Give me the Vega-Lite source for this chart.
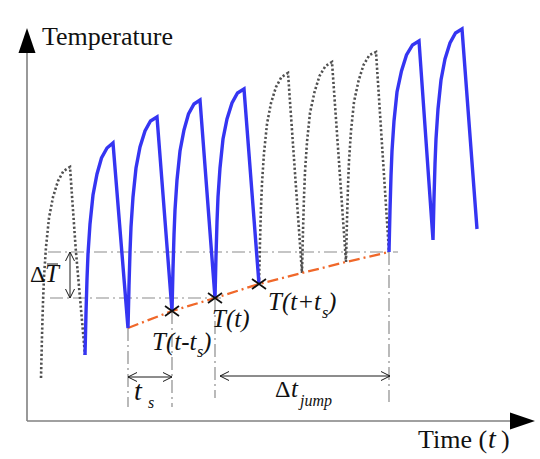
{
 "$schema": "https://vega.github.io/schema/vega-lite/v6.json",
 "width": 540,
 "height": 459,
 "autosize": {"type": "fit", "contains": "padding"},
 "padding": 0,
 "background": "#ffffff",
 "config": {"view": {"stroke": null}},
 "datasets": {
  "measured": [
   {"id":"b1","t":58,"T":66},{"id":"b1","t":59,"T":108},{"id":"b1","t":60,"T":142},{"id":"b1","t":61,"T":167},{"id":"b1","t":63,"T":197},{"id":"b1","t":66,"T":226},{"id":"b1","t":70,"T":247},{"id":"b1","t":74.5,"T":263},{"id":"b1","t":80,"T":273},{"id":"b1","t":86,"T":278},
   {"id":"b1","t":101,"T":93},{"id":"b1","t":102,"T":135},{"id":"b1","t":103,"T":169},{"id":"b1","t":104,"T":194},{"id":"b1","t":106,"T":224},{"id":"b1","t":109,"T":253},{"id":"b1","t":113,"T":274},{"id":"b1","t":118,"T":290},{"id":"b1","t":123.5,"T":300},{"id":"b1","t":130,"T":304},
   {"id":"b1","t":145,"T":110},{"id":"b1","t":146,"T":152},{"id":"b1","t":147,"T":186},{"id":"b1","t":148,"T":211},{"id":"b1","t":150,"T":241},{"id":"b1","t":153,"T":270},{"id":"b1","t":157,"T":291},{"id":"b1","t":161.5,"T":307},{"id":"b1","t":167,"T":317},{"id":"b1","t":173,"T":321},
   {"id":"b1","t":188,"T":123},{"id":"b1","t":189,"T":165},{"id":"b1","t":190,"T":199},{"id":"b1","t":191,"T":224},{"id":"b1","t":193,"T":253},{"id":"b1","t":196,"T":282},{"id":"b1","t":200,"T":302},{"id":"b1","t":205,"T":318},{"id":"b1","t":210.5,"T":328},{"id":"b1","t":217,"T":332},
   {"id":"b1","t":232,"T":137},
   {"id":"b2","t":362,"T":169},{"id":"b2","t":363,"T":211},{"id":"b2","t":364,"T":245},{"id":"b2","t":365,"T":270},{"id":"b2","t":367,"T":300},{"id":"b2","t":370,"T":329},{"id":"b2","t":374.5,"T":350},{"id":"b2","t":379.5,"T":366},{"id":"b2","t":385.5,"T":376},{"id":"b2","t":392,"T":380},
   {"id":"b2","t":406,"T":181},{"id":"b2","t":407,"T":223},{"id":"b2","t":408,"T":257},{"id":"b2","t":409,"T":282},{"id":"b2","t":411,"T":312},{"id":"b2","t":414,"T":341},{"id":"b2","t":418,"T":362},{"id":"b2","t":423,"T":378},{"id":"b2","t":428.5,"T":388},{"id":"b2","t":435,"T":392},
   {"id":"b2","t":450,"T":192}
  ],
  "skipped": [
   {"id":"d1","t":14,"T":43},{"id":"d1","t":15,"T":85},{"id":"d1","t":16,"T":119},{"id":"d1","t":17,"T":144},{"id":"d1","t":19,"T":174},{"id":"d1","t":22,"T":203},{"id":"d1","t":26,"T":224},{"id":"d1","t":31,"T":240},{"id":"d1","t":36.5,"T":250},{"id":"d1","t":43,"T":254},{"id":"d1","t":48.8,"T":171},{"id":"d1","t":58,"T":66},
   {"id":"d2","t":232,"T":137},{"id":"d2","t":233,"T":179},{"id":"d2","t":234,"T":213},{"id":"d2","t":235,"T":238},{"id":"d2","t":237,"T":268},{"id":"d2","t":240,"T":297},{"id":"d2","t":244,"T":318},{"id":"d2","t":249,"T":334},{"id":"d2","t":254.5,"T":344},{"id":"d2","t":261,"T":348},
   {"id":"d2","t":275,"T":148},{"id":"d2","t":276,"T":190},{"id":"d2","t":277,"T":224},{"id":"d2","t":278,"T":249},{"id":"d2","t":280,"T":279},{"id":"d2","t":283,"T":308},{"id":"d2","t":287.5,"T":329},{"id":"d2","t":292.5,"T":345},{"id":"d2","t":298.5,"T":355},{"id":"d2","t":305,"T":359},
   {"id":"d2","t":319,"T":159},{"id":"d2","t":320,"T":201},{"id":"d2","t":321,"T":235},{"id":"d2","t":322,"T":260},{"id":"d2","t":324,"T":290},{"id":"d2","t":327,"T":319},{"id":"d2","t":331.5,"T":340},{"id":"d2","t":336.5,"T":356},{"id":"d2","t":342.5,"T":366},{"id":"d2","t":349,"T":369},
   {"id":"d2","t":362,"T":169}
  ],
  "trend": [
   {"t":101,"T":93},{"t":145,"T":110},{"t":188,"T":123},{"t":232,"T":137},{"t":275,"T":148},{"t":319,"T":159},{"t":362,"T":169}
  ],
  "guides": [
   {"id":"g1","t":21,"T":169},{"id":"g1","t":371,"T":169},
   {"id":"g2","t":23,"T":123},{"id":"g2","t":194,"T":123},
   {"id":"g3","t":101,"T":93},{"id":"g3","t":101,"T":14},
   {"id":"g4","t":145,"T":110},{"id":"g4","t":145,"T":14},
   {"id":"g5","t":188,"T":123},{"id":"g5","t":188,"T":23},
   {"id":"g6","t":362,"T":169},{"id":"g6","t":362,"T":19}
  ],
  "dims": [
   {"id":"dT","t":43,"T":169},{"id":"dT","t":43,"T":123},
   {"id":"ts","t":101,"T":44},{"id":"ts","t":145,"T":44},
   {"id":"dj","t":193,"T":45},{"id":"dj","t":363,"T":45},
   {"id":"bar","t":20,"T":157},{"id":"bar","t":31,"T":157}
  ],
  "axes": [
   {"id":"yaxis","t":0,"T":0},{"id":"yaxis","t":0,"T":372},
   {"id":"xaxis","t":0,"T":0},{"id":"xaxis","t":484,"T":0}
  ],
  "heads": [
   {"dir":"up","t":43,"T":169},{"dir":"down","t":43,"T":123},
   {"dir":"left","t":101,"T":44},{"dir":"right","t":145,"T":44},
   {"dir":"left","t":193,"T":45},{"dir":"right","t":363,"T":45}
  ],
  "axisHeads": [
   {"dir":"up","t":0,"T":393},{"dir":"right","t":508,"T":0}
  ],
  "samples": [
   {"label":"T(t-ts)","t":145,"T":110},{"label":"T(t)","t":188,"T":123},{"label":"T(t+ts)","t":232,"T":137}
  ],
  "roman": [
   {"label":"Temperature","t":15,"T":376},
   {"label":"Time (","t":391,"T":-27},
   {"label":")","t":474,"T":-27}
  ],
  "greek": [
   {"label":"Δ","t":3,"T":139},
   {"label":"Δ","t":248,"T":24}
  ],
  "italic": [
   {"label":"T(t-t","t":125,"T":71},
   {"label":")","t":176,"T":71},
   {"label":"T(t)","t":185,"T":94},
   {"label":"T(t+t","t":241,"T":111},
   {"label":")","t":301,"T":111},
   {"label":"T","t":18,"T":139},
   {"label":"t","t":264,"T":24}
  ],
  "italicBig": [
   {"label":"t","t":107,"T":21},
   {"label":"t","t":461,"T":-27}
  ],
  "subs": [
   {"label":"s","t":170,"T":64},
   {"label":"s","t":295,"T":103},
   {"label":"s","t":121,"T":13},
   {"label":"jump","t":273,"T":15}
  ]
 },
 "encoding": {
  "x": {"field":"t","type":"quantitative","scale":{"domain":[-27,513],"nice":false,"zero":false},"axis":null},
  "y": {"field":"T","type":"quantitative","scale":{"domain":[-38,421],"nice":false,"zero":false},"axis":null}
 },
 "layer": [
  {"data":{"name":"guides"},"mark":{"type":"line","color":"#8c8c8c","strokeWidth":1.2,"strokeDash":[13,4,2,4],"clip":false},"encoding":{"detail":{"field":"id"}}},
  {"data":{"name":"axes"},"mark":{"type":"line","color":"#808080","strokeWidth":1.6,"clip":false},"encoding":{"detail":{"field":"id"}}},
  {"data":{"name":"skipped"},"mark":{"type":"line","color":"#505050","strokeWidth":2.6,"strokeDash":[2.2,2.2],"clip":false},"encoding":{"detail":{"field":"id"}}},
  {"data":{"name":"trend"},"mark":{"type":"line","color":"#f0682a","strokeWidth":2.3,"strokeDash":[11,4,2,4],"clip":false},"encoding":{}},
  {"data":{"name":"measured"},"mark":{"type":"line","color":"#3535f2","strokeWidth":3.4,"strokeJoin":"miter","clip":false},"encoding":{"detail":{"field":"id"}}},
  {"data":{"name":"dims"},"mark":{"type":"line","color":"#1a1a1a","strokeWidth":1,"clip":false},"encoding":{"detail":{"field":"id"}}},
  {"data":{"name":"heads"},"transform":[{"filter":"datum.dir == 'up'"}],"mark":{"type":"point","shape":"M-0.5,1L0,0L0.5,1","size":324,"filled":false,"stroke":"#1a1a1a","strokeWidth":1,"angle":0,"opacity":1}},
  {"data":{"name":"heads"},"transform":[{"filter":"datum.dir == 'down'"}],"mark":{"type":"point","shape":"M-0.5,1L0,0L0.5,1","size":324,"filled":false,"stroke":"#1a1a1a","strokeWidth":1,"angle":180,"opacity":1}},
  {"data":{"name":"heads"},"transform":[{"filter":"datum.dir == 'left'"}],"mark":{"type":"point","shape":"M-0.5,1L0,0L0.5,1","size":324,"filled":false,"stroke":"#1a1a1a","strokeWidth":1,"angle":270,"opacity":1}},
  {"data":{"name":"heads"},"transform":[{"filter":"datum.dir == 'right'"}],"mark":{"type":"point","shape":"M-0.5,1L0,0L0.5,1","size":324,"filled":false,"stroke":"#1a1a1a","strokeWidth":1,"angle":90,"opacity":1}},
  {"data":{"name":"axisHeads"},"transform":[{"filter":"datum.dir == 'up'"}],"mark":{"type":"point","shape":"M0,0L0.34,1L-0.34,1Z","size":2500,"filled":true,"color":"#000000","strokeWidth":0,"angle":0,"opacity":1}},
  {"data":{"name":"axisHeads"},"transform":[{"filter":"datum.dir == 'right'"}],"mark":{"type":"point","shape":"M0,0L0.34,1L-0.34,1Z","size":2500,"filled":true,"color":"#000000","strokeWidth":0,"angle":90,"opacity":1}},
  {"data":{"name":"samples"},"mark":{"type":"point","shape":"M-1,-0.72L1,0.72M-1,0.72L1,-0.72","size":196,"filled":false,"stroke":"#111111","strokeWidth":1.7,"opacity":1}},
  {"data":{"name":"roman"},"mark":{"type":"text","font":"Liberation Serif","fontSize":26,"align":"left","baseline":"alphabetic","color":"#111111"},"encoding":{"text":{"field":"label"}}},
  {"data":{"name":"greek"},"mark":{"type":"text","font":"Liberation Serif","fontSize":24,"align":"left","baseline":"alphabetic","color":"#111111"},"encoding":{"text":{"field":"label"}}},
  {"data":{"name":"italic"},"mark":{"type":"text","font":"Liberation Serif","fontStyle":"italic","fontSize":25,"align":"left","baseline":"alphabetic","color":"#111111"},"encoding":{"text":{"field":"label"}}},
  {"data":{"name":"italicBig"},"mark":{"type":"text","font":"Liberation Serif","fontStyle":"italic","fontSize":28,"align":"left","baseline":"alphabetic","color":"#111111"},"encoding":{"text":{"field":"label"}}},
  {"data":{"name":"subs"},"mark":{"type":"text","font":"Liberation Serif","fontStyle":"italic","fontSize":16,"align":"left","baseline":"alphabetic","color":"#111111"},"encoding":{"text":{"field":"label"}}}
 ]
}
